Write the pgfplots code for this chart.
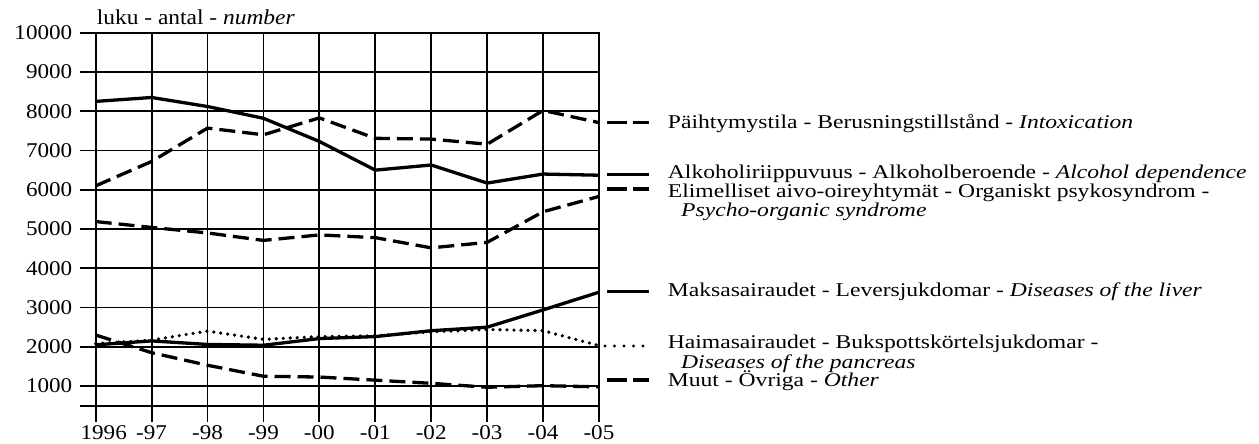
\documentclass[border=0pt]{standalone}
\usepackage{fontspec}
\setmainfont{Liberation Serif}[FakeStretch=1.1]
\newfontfamily\legfont{Liberation Serif}[FakeStretch=1.21]
\usepackage{pgfplots}
\usepackage{pgfplotstable}
\pgfplotsset{compat=1.18}

% hospital care periods by diagnosis, 1996-2005
\pgfplotstableread{
year alc  intox organic liver pancreas other
1996 8250 6100  5190    2050  2080     2300
1997 8350 6720  5040    2150  2170     1850
1998 8120 7570  4900    2060  2400     1530
1999 7820 7400  4710    2040  2190     1250
2000 7230 7830  4850    2210  2260     1230
2001 6500 7310  4780    2260  2280     1150
2002 6630 7290  4520    2410  2380     1070
2003 6170 7160  4660    2500  2440      970
2004 6400 8020  5440    2940  2410     1010
2005 6370 7710  5830    3390  2030      980
}\data

\tikzset{
  dashline/.style={line width=3.3pt, dash pattern=on 16pt off 7pt},
  solidline/.style={line width=3.3pt},
  dotline/.style={line width=3.6pt, line cap=round, dash pattern=on 0pt off 7pt},
}

\begin{document}
\begin{tikzpicture}[x=1pt,y=1pt]
\path[use as bounding box] (0,0) rectangle (1259,444);
\begin{axis}[
  at={(95.7pt,38.3pt)}, anchor=south west,
  scale only axis, width=503.3pt, height=373pt,
  xmin=1996, xmax=2005, ymin=500, ymax=10000,
  xtick={1996,...,2005},
  xticklabels={\hspace*{16pt}1996,-97,-98,-99,-00,-01,-02,-03,-04,-05},
  ytick={1000,2000,...,10000},
  scaled y ticks=false,
  extra y ticks={500}, extra y tick labels={},
  grid=major,
  major grid style={black, line width=1.8pt},
  axis line style={black, line width=1.8pt},
  tick style={black, line width=1.8pt},
  tick align=outside, major tick length=16pt,
  xtick pos=left, ytick pos=left,
  tick label style={font=\fontsize{21}{24}\selectfont},
  yticklabel style={xshift=-4pt},
  /pgf/number format/1000 sep={},
  /pgf/number format/assume math mode=true,
  clip=false,
]
\addplot[solidline] table[x=year,y=alc] {\data};
\addplot[dashline] table[x=year,y=intox] {\data};
\addplot[dashline] table[x=year,y=organic] {\data};
\addplot[solidline] table[x=year,y=liver] {\data};
\addplot[dotline] table[x=year,y=pancreas] {\data};
\addplot[dashline] table[x=year,y=other] {\data};
\end{axis}

% axis title
\node[anchor=base west, inner sep=0, font=\fontsize{21.3}{24}\selectfont]
  at (96.7,419) {luku - antal - \textit{number}};

% legend beside the line ends
\begin{scope}[font=\legfont\fontsize{19.5}{22}\selectfont]
\draw[line width=3.2pt, dash pattern=on 20pt off 6pt] (607.3,321.3) -- (649.3,321.3);
\node[anchor=base west, inner sep=0] at (667.7,315)
  {Päihtymystila - Berusningstillstånd - \textit{Intoxication}};
\draw[line width=3.2pt] (607.3,269.5) -- (649.3,269.5);
\node[anchor=base west, inner sep=0] at (667.7,265)
  {Alkoholiriippuvuus - Alkoholberoende - \textit{Alcohol dependence}};
\draw[line width=3.2pt, dash pattern=on 20pt off 6pt] (607.3,255) -- (649.3,255);
\node[anchor=base west, inner sep=0] at (667.7,246)
  {Elimelliset aivo-oireyhtymät - Organiskt psykosyndrom -};
\node[anchor=base west, inner sep=0] at (681,227.5)
  {\textit{Psycho-organic syndrome}};
\draw[line width=3.2pt] (607.3,152.3) -- (649.3,152.3);
\node[anchor=base west, inner sep=0] at (667.7,147.3)
  {Maksasairaudet - Leversjukdomar - \textit{Diseases of the liver}};
\draw[line width=3.4pt, line cap=round, dash pattern=on 0pt off 9.5pt] (605,98) -- (645,98);
\node[anchor=base west, inner sep=0] at (667.7,95.5)
  {Haimasairaudet - Bukspottskörtelsjukdomar -};
\node[anchor=base west, inner sep=0] at (681,75)
  {\textit{Diseases of the pancreas}};
\draw[line width=3.2pt, dash pattern=on 20pt off 6pt] (607.3,64) -- (649.3,64);
\node[anchor=base west, inner sep=0] at (667.7,57.3)
  {Muut - Övriga - \textit{Other}};
\end{scope}
\end{tikzpicture}
\end{document}
